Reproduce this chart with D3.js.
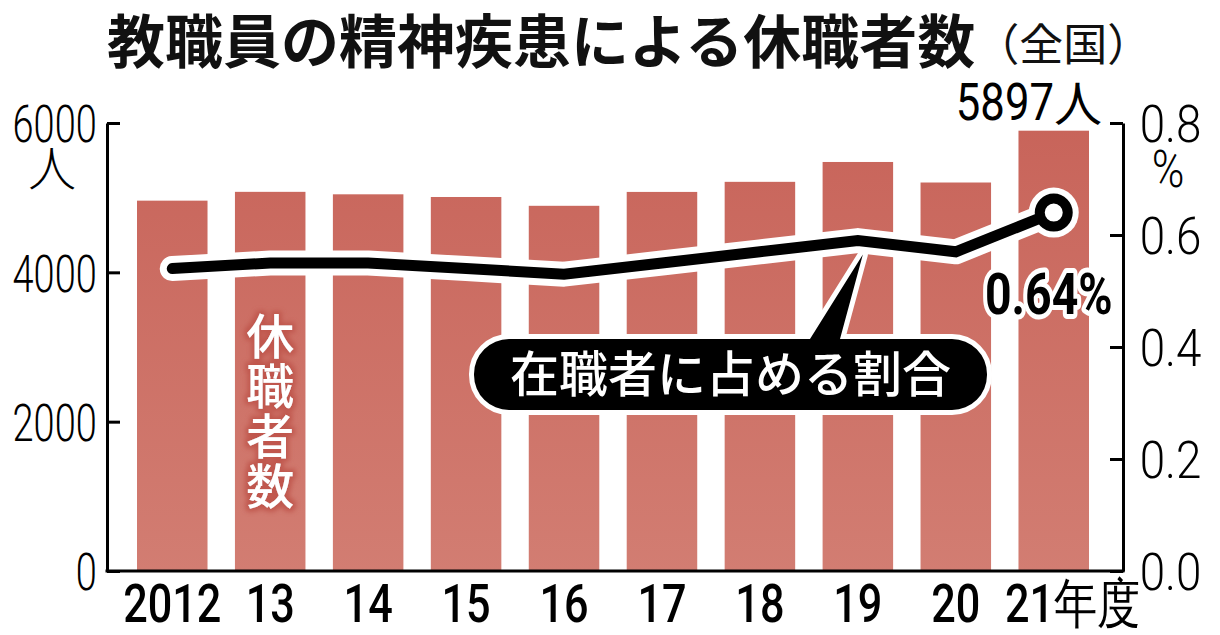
<!DOCTYPE html>
<html><head><meta charset="utf-8">
<script src="https://cdn.jsdelivr.net/npm/d3@7"></script>
<style>
html,body{margin:0;padding:0;background:#fff;}
svg{display:block;}
</style></head>
<body>
<svg id="chart" width="1220" height="635"></svg>
<script>
const years = ["2012","13","14","15","16","17","18","19","20","21"];
const yearLabels = ["2012","13","14","15","16","17","18","19","20","21年度"];
const leaveCounts = [4960,5078,5045,5009,4891,5077,5212,5478,5203,5897];
const leaveRatios = [0.54,0.55,0.55,0.54,0.53,0.55,0.57,0.59,0.57,0.64];
const leftTicks = [0,2000,4000,6000];
const rightTicks = [0,0.2,0.4,0.6,0.8];
const titleMain = "教職員の精神疾患による休職者数";
const titleSub = "（全国）";
const barLabel = "休職者数";
const calloutText = "在職者に占める割合";
const lastCountNum = "5897";
const lastCountUnit = "人";
const lastRatioLabel = "0.64%";

const svg = d3.select("#chart");
const numFont = "'Liberation Sans Narrow','Roboto','Liberation Sans',sans-serif";
const cjk = "'Noto Sans CJK JP','Noto Sans',sans-serif";

const axL = 107, axR = 1123, y0 = 571, yTop = 123;
const x = d3.scaleBand().domain(years).range([137, 1089]).paddingInner(0.28).paddingOuter(0);
const yL = d3.scaleLinear().domain([0, 6000]).range([y0, yTop]);
const yR = d3.scaleLinear().domain([0, 0.8]).range([y0, yTop]);
const cx = d => x(d) + x.bandwidth() / 2;

// gradient + glow
const defs = svg.append("defs");
const grad = defs.append("linearGradient").attr("id", "barGrad")
  .attr("gradientUnits", "userSpaceOnUse").attr("x1", 0).attr("x2", 0).attr("y1", yTop).attr("y2", y0);
grad.append("stop").attr("offset", "0%").attr("stop-color", "#c8645a");
grad.append("stop").attr("offset", "100%").attr("stop-color", "#d27d72");
const glow = defs.append("filter").attr("id", "glow").attr("x", "-30%").attr("y", "-10%").attr("width", "160%").attr("height", "120%");
glow.append("feMorphology").attr("in", "SourceAlpha").attr("operator", "dilate").attr("radius", 3).attr("result", "d");
glow.append("feGaussianBlur").attr("in", "d").attr("stdDeviation", 2.5).attr("result", "b");
glow.append("feFlood").attr("flood-color", "#c0574d").attr("result", "c");
glow.append("feComposite").attr("in", "c").attr("in2", "b").attr("operator", "in").attr("result", "g");
const gm = glow.append("feMerge");
gm.append("feMergeNode").attr("in", "g");
gm.append("feMergeNode").attr("in", "SourceGraphic");

// title
const t = svg.append("text").attr("x", 107).attr("y", 63)
  .attr("font-family", cjk).attr("fill", "#111");
t.append("tspan").attr("font-size", 58).attr("font-weight", 700).text(titleMain);
t.append("tspan").attr("font-size", 44).attr("font-weight", 400).attr("dy", -2).text(titleSub);

// bars
svg.append("g").selectAll("rect").data(years).join("rect")
  .attr("x", d => x(d)).attr("width", x.bandwidth())
  .attr("y", (d, i) => yL(leaveCounts[i]))
  .attr("height", (d, i) => y0 - yL(leaveCounts[i]))
  .attr("fill", "url(#barGrad)");

// vertical bar label
svg.append("text").attr("x", cx("13")).attr("y", 312)
  .style("writing-mode", "vertical-rl")
  .attr("font-family", cjk).attr("font-weight", 500)
  .attr("font-size", 48).attr("letter-spacing", 2).attr("fill", "#fff")
  .attr("filter", "url(#glow)").text(barLabel);

// line
const pts = years.map((d, i) => [cx(d), yR(leaveRatios[i])]);
const line = d3.line();
svg.append("path").attr("d", line(pts)).attr("fill", "none")
  .attr("stroke", "#fff").attr("stroke-width", 25).attr("stroke-linejoin", "round").attr("stroke-linecap", "round");
const last = pts[pts.length - 1];
svg.append("circle").attr("cx", last[0]).attr("cy", last[1]).attr("r", 25).attr("fill", "#fff");

// callout
const p19 = pts[years.indexOf("19")];
const bx0 = 474, bx1 = 987, by0 = 339, by1 = 410, rr = 35;
const tip = [p19[0] + 5, p19[1] + 14];
function calloutPath() {
  const p = d3.path();
  p.moveTo(bx0 + rr, by0);
  p.lineTo(810, by0);
  p.lineTo(tip[0], tip[1]);
  p.lineTo(840, by0);
  p.lineTo(bx1 - rr, by0);
  p.arcTo(bx1, by0, bx1, by0 + rr, rr);
  p.arcTo(bx1, by1, bx1 - rr, by1, rr);
  p.lineTo(bx0 + rr, by1);
  p.arcTo(bx0, by1, bx0, by1 - rr, rr);
  p.arcTo(bx0, by0, bx0 + rr, by0, rr);
  p.closePath();
  return p.toString();
}
svg.append("path").attr("d", calloutPath()).attr("fill", "#fff").attr("stroke", "#fff")
  .attr("stroke-width", 10).attr("stroke-linejoin", "round");
svg.append("path").attr("d", calloutPath()).attr("fill", "#000");
svg.append("text").attr("x", (bx0 + bx1) / 2).attr("y", 392)
  .attr("text-anchor", "middle").attr("font-family", cjk).attr("font-weight", 500)
  .attr("font-size", 49).attr("fill", "#fff").text(calloutText);

svg.append("path").attr("d", line(pts)).attr("fill", "none")
  .attr("stroke", "#000").attr("stroke-width", 11).attr("stroke-linejoin", "miter").attr("stroke-linecap", "round");
svg.append("circle").attr("cx", last[0]).attr("cy", last[1]).attr("r", 14)
  .attr("fill", "#fff").attr("stroke", "#000").attr("stroke-width", 10);

// 0.64% label
svg.append("text").attr("transform", `translate(985,314) scale(0.8,1)`)
  .attr("font-family", numFont).attr("font-weight", 700).attr("font-size", 58)
  .attr("fill", "#000").attr("stroke", "#fff").attr("stroke-width", 10).attr("stroke-linejoin", "round")
  .attr("paint-order", "stroke").text(lastRatioLabel);

// 5897人
svg.append("text").attr("transform", `translate(1054,120) scale(0.84,1)`)
  .attr("text-anchor", "end")
  .attr("font-family", numFont).attr("font-weight", 400).attr("font-size", 52)
  .attr("fill", "#000").text(lastCountNum);
svg.append("text").attr("x", 1054).attr("y", 121)
  .attr("font-family", cjk).attr("font-weight", 400).attr("font-size", 48)
  .attr("fill", "#000").text(lastCountUnit);

// axes
const lAxis = svg.append("g").attr("transform", `translate(${axL},0)`)
  .call(d3.axisLeft(yL).tickValues(leftTicks).tickSizeInner(-13).tickSizeOuter(0).tickPadding(0).tickFormat(d3.format("d")));
const rAxis = svg.append("g").attr("transform", `translate(${axR},0)`)
  .call(d3.axisRight(yR).tickValues(rightTicks).tickSizeInner(-13).tickSizeOuter(0).tickPadding(0).tickFormat(d3.format(".1f")));
[lAxis, rAxis].forEach(a => {
  a.select(".domain").attr("stroke", "#000").attr("stroke-width", 3);
  a.selectAll(".tick line").attr("stroke", "#000").attr("stroke-width", 3);
  a.selectAll("text").attr("font-family", "'Roboto',sans-serif").attr("font-weight", 300)
    .attr("font-size", 52).attr("fill", "#000").attr("dy", "0.36em");
});
lAxis.selectAll("text").attr("x", -14).attr("transform", "scale(0.73,1)");
rAxis.selectAll("text").attr("x", 19).attr("transform", "scale(0.88,1)");
svg.append("line").attr("x1", axL - 1.5).attr("x2", axR + 1.5).attr("y1", y0).attr("y2", y0)
  .attr("stroke", "#000").attr("stroke-width", 3);

// unit labels
svg.append("text").attr("x", 52).attr("y", 186).attr("text-anchor", "middle")
  .attr("font-family", cjk).attr("font-weight", 300).attr("font-size", 48).attr("fill", "#000").text("人");
svg.append("text").attr("transform", "translate(1168,187) scale(0.85,1)").attr("text-anchor", "middle")
  .attr("font-family", "'Roboto',sans-serif").attr("font-weight", 300).attr("font-size", 52).attr("fill", "#000").text("%");

// x axis labels
const xAxis = svg.append("g").attr("transform", `translate(0,${y0})`)
  .call(d3.axisBottom(x).tickSize(0).tickPadding(0).tickFormat((d, i) => yearLabels[i]));
xAxis.select(".domain").remove();
xAxis.selectAll("text").attr("font-family", numFont).attr("font-weight", 500)
  .attr("font-size", 54).attr("fill", "#000").attr("dy", null).attr("y", 51)
  .attr("transform", "scale(0.8,1)");
xAxis.selectAll("text").filter((d, i) => i === years.length - 1)
  .attr("text-anchor", "start").attr("x", -61);
</script>
</body></html>
